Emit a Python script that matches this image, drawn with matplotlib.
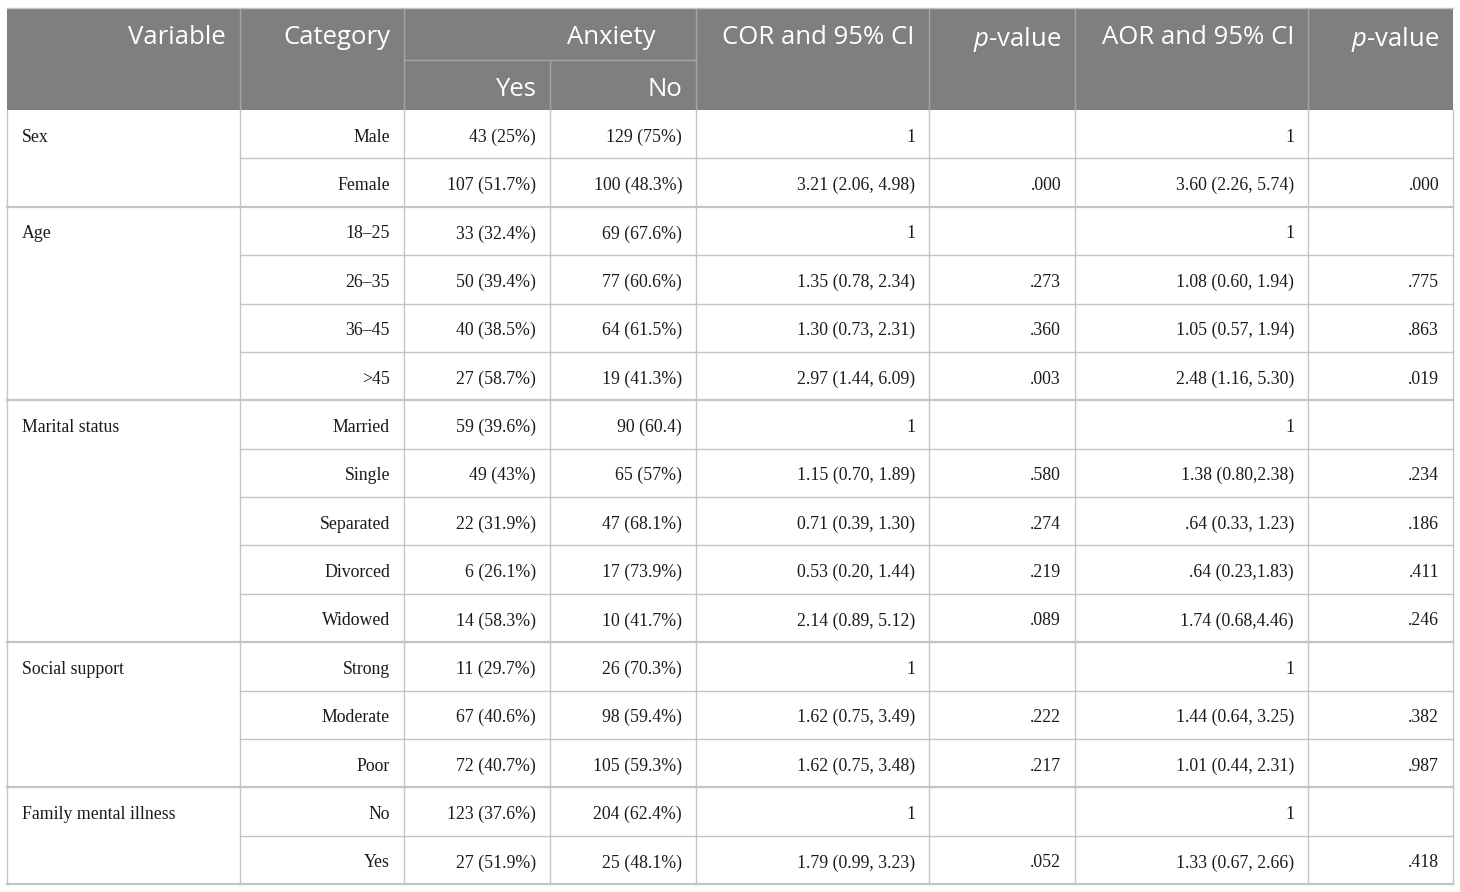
import matplotlib.pyplot as plt

# Table content
variables = ["Sex", "Age", "Marital status", "Social support", "Family mental illness"]
categories = [
    ["Male", "Female"],
    ["18–25", "26–35", "36–45", ">45"],
    ["Married", "Single", "Separated", "Divorced", "Widowed"],
    ["Strong", "Moderate", "Poor"],
    ["No", "Yes"],
]
anx_yes = ["43 (25%)", "107 (51.7%)",
           "33 (32.4%)", "50 (39.4%)", "40 (38.5%)", "27 (58.7%)",
           "59 (39.6%)", "49 (43%)", "22 (31.9%)", "6 (26.1%)", "14 (58.3%)",
           "11 (29.7%)", "67 (40.6%)", "72 (40.7%)",
           "123 (37.6%)", "27 (51.9%)"]
anx_no = ["129 (75%)", "100 (48.3%)",
          "69 (67.6%)", "77 (60.6%)", "64 (61.5%)", "19 (41.3%)",
          "90 (60.4)", "65 (57%)", "47 (68.1%)", "17 (73.9%)", "10 (41.7%)",
          "26 (70.3%)", "98 (59.4%)", "105 (59.3%)",
          "204 (62.4%)", "25 (48.1%)"]
cor_ci = ["1", "3.21 (2.06, 4.98)",
          "1", "1.35 (0.78, 2.34)", "1.30 (0.73, 2.31)", "2.97 (1.44, 6.09)",
          "1", "1.15 (0.70, 1.89)", "0.71 (0.39, 1.30)", "0.53 (0.20, 1.44)", "2.14 (0.89, 5.12)",
          "1", "1.62 (0.75, 3.49)", "1.62 (0.75, 3.48)",
          "1", "1.79 (0.99, 3.23)"]
cor_p = ["", ".000",
         "", ".273", ".360", ".003",
         "", ".580", ".274", ".219", ".089",
         "", ".222", ".217",
         "", ".052"]
aor_ci = ["1", "3.60 (2.26, 5.74)",
          "1", "1.08 (0.60, 1.94)", "1.05 (0.57, 1.94)", "2.48 (1.16, 5.30)",
          "1", "1.38 (0.80,2.38)", ".64 (0.33, 1.23)", ".64 (0.23,1.83)", "1.74 (0.68,4.46)",
          "1", "1.44 (0.64, 3.25)", "1.01 (0.44, 2.31)",
          "1", "1.33 (0.67, 2.66)"]
aor_p = ["", ".000",
         "", ".775", ".863", ".019",
         "", ".234", ".186", ".411", ".246",
         "", ".382", ".987",
         "", ".418"]

plt.rcParams["mathtext.fontset"] = "custom"
plt.rcParams["mathtext.it"] = "Open Sans:italic"
plt.rcParams["mathtext.rm"] = "Open Sans"

# layout in pixels
W, H = 1460, 892
col_x = [7, 240, 404, 550, 696, 929, 1075, 1308, 1453]
top, hdr_mid, hdr_bot, bottom = 8, 60, 110, 884
n_rows = len(anx_yes)
row_h = (bottom - hdr_bot) / n_rows
pad = 14

hdr_color = "#7f7f7f"
line_color = "#c4c4c4"
hdr_font = "Open Sans"
body_font = "Liberation Serif"
hdr_size = 18.5
body_size = 12.8

fig = plt.figure(figsize=(W / 100, H / 100), dpi=100)
ax = fig.add_axes([0, 0, 1, 1])
ax.set_xlim(0, W)
ax.set_ylim(H, 0)
ax.axis("off")

# header background
ax.add_patch(plt.Rectangle((col_x[0], top), col_x[-1] - col_x[0], hdr_bot - top,
                           facecolor=hdr_color, edgecolor="none"))
for x in col_x[1:-1]:
    if x == col_x[3]:
        ax.plot([x, x], [hdr_mid, hdr_bot], color="#a5a5a5", lw=1)
    else:
        ax.plot([x, x], [top, hdr_bot], color="#a5a5a5", lw=1)
ax.plot([col_x[2], col_x[4]], [hdr_mid, hdr_mid], color="#a5a5a5", lw=1)
ax.plot([col_x[0], col_x[-1]], [top, top], color=line_color, lw=1)

hdr_kw = dict(color="white", fontsize=hdr_size, family=hdr_font, va="center_baseline")
y1 = (top + hdr_mid) / 2 + 1
y2 = (hdr_mid + hdr_bot) / 2 + 1
ax.text(col_x[1] - pad, y1, "Variable", ha="right", **hdr_kw)
ax.text(col_x[2] - pad, y1, "Category", ha="right", **hdr_kw)
ax.text(611, y1, "Anxiety", ha="center", **hdr_kw)
ax.text(col_x[3] - pad, y2, "Yes", ha="right", **hdr_kw)
ax.text(col_x[4] - pad, y2, "No", ha="right", **hdr_kw)
ax.text(col_x[5] - pad, y1, "COR and 95% CI", ha="right", **hdr_kw)
ax.text(col_x[6] - pad, y1, "$\\it{p}$-value", ha="right", **hdr_kw)
ax.text(col_x[7] - pad, y1, "AOR and 95% CI", ha="right", **hdr_kw)
ax.text(col_x[8] - pad, y1, "$\\it{p}$-value", ha="right", **hdr_kw)

# body
body_kw = dict(color="#1a1a1a", fontsize=body_size, family=body_font, va="center_baseline")
columns = [anx_yes, anx_no, cor_ci, cor_p, aor_ci, aor_p]
r = 0
for var, cats in zip(variables, categories):
    g_top = hdr_bot + r * row_h
    ax.text(col_x[0] + 15, g_top + row_h / 2 + 1, var, ha="left", **body_kw)
    for k, cat in enumerate(cats):
        yc = hdr_bot + (r + 0.5) * row_h + 1
        ax.text(col_x[2] - pad, yc, cat, ha="right", **body_kw)
        for j, col in enumerate(columns):
            ax.text(col_x[j + 3] - pad, yc, col[r], ha="right", **body_kw)
        if k > 0:
            ax.plot([col_x[1], col_x[-1]], [g_top + k * row_h] * 2,
                    color=line_color, lw=1)
        r += 1
    ax.plot([col_x[0], col_x[-1]], [hdr_bot + r * row_h] * 2,
            color=line_color, lw=1.6)

# vertical body lines
for x in col_x:
    ax.plot([x, x], [hdr_bot, bottom], color=line_color, lw=1)

fig.savefig("out.png", dpi=100)
